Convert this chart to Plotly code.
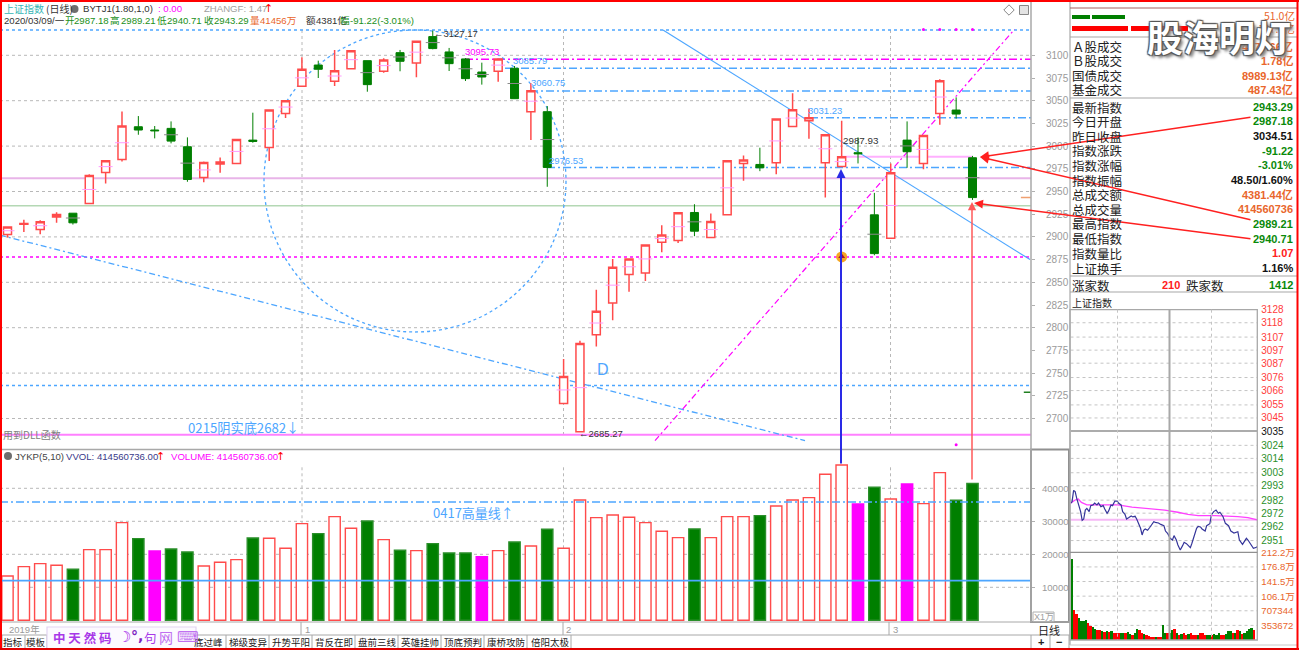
import plotly.graph_objects as go

W, H = 1299, 650
FONT = "Liberation Sans, Noto Sans CJK SC, sans-serif"
CJK = "Noto Sans CJK SC, Liberation Sans, sans-serif"

# ---------- daily candles ----------
opens = [2902.6,2914.0,2908.1,2922.0,2926.1,2936.8,2971.0,2985.3,3021.3,3017.7,3019.5,2999.3,2965.5,2980.2,2980.9,3006.6,2998.5,3036.0,3065.8,3089.3,
         3071.3,3085.3,3094.1,3082.4,3102.9,3091.5,3120.6,3103.7,3096.0,3081.6,3082.4,3085.7,3037.9,3037.9,2716.6,2685.3,2792.3,2827.2,2858.5,2860.3,
         2894.1,2896.0,2926.9,2899.3,2924.3,2980.9,2979.8,2981.6,3021.7,3028.0,2981.6,2977.6,2992.7,2924.3,2898.6,3006.6,2980.9,3036.0,3039.7,2987.18]
highs = [2911.0,2919.0,2918.4,2927.2,2926.1,2969.1,2984.6,3038.2,3033.1,3022.1,3027.2,3009.6,2983.1,2987.5,3007.4,3036.8,3040.4,3050.7,3097.8,3094.1,
         3105.9,3105.9,3094.1,3096.7,3105.9,3115.4,3127.17,3108.1,3097.0,3091.9,3096.7,3088.2,3069.1,3044.1,2765.5,2785.7,2841.9,2875.7,2875.7,2891.2,
         2912.9,2926.5,2936.0,2925.8,2983.8,2989.7,2998.2,3030.5,3058.1,3041.5,3013.2,3028.0,3009.6,2948.5,2980.9,3027.2,3011.8,3073.5,3053.7,2989.21]
lows = [2899.3,2905.5,2903.0,2915.5,2913.6,2936.0,2958.8,2983.1,3012.5,3008.5,3003.0,2960.7,2960.3,2970.6,2980.9,3003.7,2983.5,3030.9,3065.4,3075.0,
        3066.2,3084.6,3059.9,3080.9,3082.4,3075.7,3106.6,3082.7,3071.7,3067.7,3071.0,3052.2,3006.6,2955.2,2716.6,2685.27,2779.4,2808.1,2839.7,2851.5,
        2883.1,2893.4,2900.8,2899.3,2924.3,2961.8,2972.4,2969.1,3021.3,3008.1,2943.4,2977.2,2980.9,2879.8,2897.9,2976.1,2974.6,3023.5,3030.2,2940.71]
closes = [2911.0,2914.7,2916.6,2924.6,2915.5,2967.7,2983.8,3022.1,3017.7,3016.9,3005.5,2963.2,2982.0,2982.4,3007.4,3005.2,3039.7,3050.0,3084.6,3084.6,
          3083.1,3105.1,3067.7,3094.9,3093.4,3115.4,3107.4,3090.8,3074.3,3076.1,3096.0,3052.2,3061.0,2976.5,2746.3,2782.7,2818.0,2866.5,2875.7,2891.2,
          2902.2,2926.5,2906.3,2916.9,2983.8,2984.6,2976.1,3029.8,3040.1,3031.3,3012.5,2988.2,2991.6,2881.6,2970.6,2993.8,3011.8,3072.1,3035.3,2943.29]
idx = list(range(len(closes)))

volumes = [13434,16263,17172,16667,15455,21414,21414,29596,24747,21010,21616,20707,16465,17576,18384,24950,24848,21818,29293,26263,
           31414,27879,30101,24444,21212,21111,23232,20404,20404,19293,21111,23737,22525,27576,21818,36465,31111,31919,31212,29596,
           26970,25051,27677,25051,31414,31414,31717,34646,36465,37172,44242,47071,35253,40303,36768,41313,35354,44747,36364,41456]
vol_kind = ["r","r","r","r","g","r","r","r","g","m","g","g","r","r","r","g","r","r","r","g",
            "r","r","g","r","g","r","g","g","g","m","r","g","r","g","r","r","r","r","r","r",
            "r","r","g","r","r","r","g","r","r","r","r","r","m","g","r","m","r","r","g","g"]

# ---------- price axis ----------
price_ticks = [2700,2725,2750,2775,2800,2825,2850,2875,2900,2925,2950,2975,3000,3025,3050,3075,3100]
price_grid = [2700,2750,2800,2850,2900,2950,3000,3050,3100]
vol_ticks = [10000,20000,30000,40000]

# ---------- intraday ----------
min_t = [0,2,4,6,8,11,13,15,17,19,21,24,26,29,31,34,36,39,42,44,47,49,52,54,57,60,62,65,67,70,72,75,78,80,83,85,88,90,92,94,96,99,102,104,107,109,113,116,120,122,125,128,131,133,136,138,141,144,146,149,151,154,156,159,162,164,167,169,173,175,179,181,184,187,190,192,196,199,203,206,210,215,217,221,223,226,228,232,235,239,240]
min_p = [2979.6,2980.8,2989.5,2988.5,2983.4,2977.0,2973.2,2966.5,2967.5,2974.4,2975.7,2973.2,2977.8,2978.3,2979.8,2978.3,2979.8,2977.0,2977.8,2975.2,2971.9,2973.7,2978.3,2977.8,2981.3,2981.3,2979.6,2978.3,2973.2,2971.1,2967.5,2968.6,2969.8,2969.1,2969.6,2967.5,2962.9,2960.4,2955.3,2958.9,2959.9,2958.9,2961.2,2963.4,2965.5,2965.0,2964.5,2963.4,2962.4,2958.3,2956.3,2952.7,2951.4,2954.8,2951.4,2947.6,2943.8,2947.1,2949.7,2948.6,2947.6,2945.6,2948.9,2954.3,2960.4,2961.9,2961.4,2959.9,2958.3,2962.4,2963.9,2970.6,2973.2,2974.4,2971.9,2972.7,2969.3,2964.2,2962.4,2958.3,2956.8,2957.8,2951.4,2948.1,2950.2,2952.7,2951.4,2947.6,2945.1,2945.8,2946.6]
avg_t = [0,6,10,14,21,36,61,79,104,121,138,151,164,186,215,228,240]
avg_p = [2979.6,2982.1,2982.9,2980.3,2978.3,2978.3,2978.3,2976.7,2975.2,2974.4,2972.7,2971.1,2970.1,2970.1,2969.3,2968.6,2966.8]
mini_vol = [197,72,64,53,45,45,48,41,33,31,26,25,23,21,19,21,19,21,18,16,18,16,18,16,19,15,13,16,26,25,18,14,12,10,8,8,7,7,8,37,
            16,18,16,23,26,18,12,15,16,12,15,16,11,11,12,16,18,12,13,11,11,14,12,16,12,11,15,21,21,16,18,23,21,15,18,21,26,28,23]
mini_kind = ["g","r","r","g","g","g","g","r","r","g","g","r","r","g","r","g","r","g","r","r","r","g","g","r","g","g","r","g","g","r","r","g","r","r","r","r","g","r","r","g",
             "g","r","g","g","r","g","r","g","r","r","g","r","r","r","g","r","r","r","g","g","r","g","g","g","r","r","g","g","g","r","g","r","g","r","g","g","g","g","r"]
mini_t = [i * 3 + 1.5 for i in range(len(mini_vol))]
mini_price_ticks = [3128,3118,3107,3097,3087,3076,3066,3055,3045,3035,3024,3014,3003,2993,2982,2972,2962,2951]
mini_vol_ticks = [212.2,176.8,141.5,106.1,70.7344,35.3672]
mini_vol_text = ["212.2万","176.8万","141.5万","106.1万","707344","353672"]

# ---------- colours ----------
RED = "#ff4b4b"; GREEN = "#007f00"; MAG = "#ff00ff"; BLUE = "#4da6ff"; GRAY = "#9a9a9a"; ORANGE = "#e9662c"
GRID = "#b8b8b8"; BORDER = "#a8a8a8"

# ---------- pixel helpers (page layout only) ----------
def fx(p): return p / W
def fy(p): return 1 - p / H
XR = (-7.5 / 16.356, (1031 - 7.5) / 16.356)
def ix(p): return (p - 7.5) / 16.356
def pv(p): return 3100 - (p - 55.3) / 0.908
XEND = XR[1]

shapes, annos = [], []

def hl(v, x0, x1, color, width=1, dash="solid", xref="x", yref="y", layer="below"):
    shapes.append(dict(type="line", xref=xref, yref=yref, x0=x0, x1=x1, y0=v, y1=v, layer=layer,
                       line=dict(color=color, width=width, dash=dash)))
def seg(x0, y0, x1, y1, color, width=1, dash="solid"):
    shapes.append(dict(type="line", xref="x", yref="y", x0=x0, x1=x1, y0=y0, y1=y1, layer="below",
                       line=dict(color=color, width=width, dash=dash)))
def box(x0, y0, x1, y1, color=BORDER, width=1, fill=None, layer="above"):
    d = dict(type="rect", xref="paper", yref="paper", x0=fx(x0), x1=fx(x1), y0=fy(y0), y1=fy(y1), layer=layer,
             line=dict(color=color, width=width))
    if fill: d["fillcolor"] = fill
    shapes.append(d)
def pl(x0, y0, x1, y1, color=BORDER, width=1, dash="solid"):
    shapes.append(dict(type="line", xref="paper", yref="paper", x0=fx(x0), x1=fx(x1), y0=fy(y0), y1=fy(y1), layer="above",
                       line=dict(color=color, width=width, dash=dash)))
def txt(x, y, s, color="#333333", size=9.6, anchor="left", family=FONT, bold=False, **font_kw):
    if bold: s = "<b>" + s + "</b>"
    annos.append(dict(xref="paper", yref="paper", x=fx(x), y=fy(y), text=s, showarrow=False, xanchor=anchor, yanchor="middle",
                      borderpad=0, font=dict(color=color, size=size, family=family, **font_kw)))
def arrow(x0, y0, x1, y1, color, width=1.5, size=1.0):
    annos.append(dict(xref="paper", yref="paper", x=fx(x1), y=fy(y1), ax=x0 - x1, ay=y0 - y1, text="", showarrow=True,
                      arrowhead=2, arrowsize=size, arrowwidth=width, arrowcolor=color))

# ---------- main pane lines ----------
for v in price_grid:
    hl(v, XR[0], XR[1], GRID, 1, "dot")
for p in (302, 563.5, 890.5):
    seg(ix(p), pv(30), ix(p), pv(437), GRID, 1, "dot")
    shapes.append(dict(type="line", xref="x2", yref="y2", x0=ix(p), x1=ix(p), y0=0, y1=47000, layer="below",
                       line=dict(color=GRID, width=1, dash="dot")))
DD = "8px,3px,2px,3px"
hl(3127.9, XR[0], XEND, BLUE, 1.5, "dot")
hl(3095.73, ix(465), XEND, MAG, 1.5, DD)
hl(3085.79, ix(505), XEND, BLUE, 1.5, DD)
hl(3060.75, ix(530), XEND, BLUE, 1.5, DD)
hl(3031.23, ix(810), XEND, BLUE, 1.5, DD)
hl(2976.53, ix(547), XEND, BLUE, 1.5, DD)
hl(2964.5, XR[0], XEND, "#e8b4e8", 2)
hl(2934.2, XR[0], XEND, "#b4d8b4", 1.5)
hl(2988.2, ix(841), ix(972), "#ffb0ff", 2)
hl(2877.9, XR[0], XEND, MAG, 1.5, "dot")
hl(2736.4, XR[0], XEND, BLUE, 1.5, "dot")
hl(2682, XR[0], XEND, "#ff80ff", 2)
seg(ix(663), 3127.9, ix(1030), 2875, BLUE, 1.2)
seg(XR[0], 2902, ix(805), 2675.6, BLUE, 1.3, "6px,3px,2px,3px")
seg(ix(655), 2675.6, ix(1014.5), 3128.6, MAG, 1.2, "6px,3px,2px,3px")
shapes.append(dict(type="circle", xref="x", yref="y", x0=ix(264), x1=ix(566), y0=pv(332), y1=pv(30), layer="below",
                   line=dict(color=BLUE, width=1.3, dash="dot")))

# volume pane lines
for v in vol_ticks:
    hl(v, XR[0], XR[1], GRID, 1, "dot", "x2", "y2")
hl(12020, XR[0], XR[1], BLUE, 1.8, "solid", "x2", "y2", "above")
hl(35859, XR[0], XR[1], BLUE, 1.6, DD, "x2", "y2", "above")

# mini pane lines
for v in mini_price_ticks:
    if v not in (3128, 3035):
        hl(v, 0, 240, "#c4c4c4", 1, "dot", "x3", "y3")
hl(3035, 0, 240, "#909090", 1.5, "solid", "x3", "y3")
hl(2967, 0, 240, "#f6b8f6", 2, "solid", "x3", "y3")
for v in mini_vol_ticks[1:]:
    hl(v, 0, 240, "#c4c4c4", 1, "dot", "x4", "y4")

# ---------- traces ----------
fig = go.Figure()
fig.add_trace(go.Candlestick(x=idx, open=opens, high=highs, low=lows, close=closes, xaxis="x", yaxis="y",
    increasing=dict(line=dict(color=RED, width=1.5), fillcolor="white"),
    decreasing=dict(line=dict(color=GREEN, width=1.0), fillcolor=GREEN),
    whiskerwidth=0, hoverinfo="skip", showlegend=False))

mid_x = [i for i in idx if abs(closes[i] - opens[i]) >= 5]
mid_y = [(opens[i] + closes[i]) / 2 for i in mid_x]
mid_c = ["#ff9cff" if closes[i] > opens[i] else "#8a8a8a" for i in mid_x]
fig.add_trace(go.Scatter(x=mid_x, y=mid_y, mode="markers", xaxis="x", yaxis="y", hoverinfo="skip", showlegend=False,
    marker=dict(symbol="line-ew", size=10, line=dict(color=mid_c, width=1))))

# small marks on the main pane
fig.add_trace(go.Scatter(x=[56, 57, 58, 59, 58], y=[3128.5, 3128.5, 3128.5, 3128.5, 2671], mode="markers", xaxis="x", yaxis="y",
    hoverinfo="skip", showlegend=False, marker=dict(color=MAG, size=3)))
fig.add_trace(go.Scatter(x=[51], y=[2877.9], mode="markers", xaxis="x", yaxis="y", hoverinfo="skip", showlegend=False,
    marker=dict(color="#f5a623", size=11, symbol="circle")))
fig.add_trace(go.Scatter(x=[51], y=[2878.5], mode="markers", xaxis="x", yaxis="y", hoverinfo="skip", showlegend=False,
    marker=dict(color="#a01040", size=6, symbol="triangle-up")))
fig.add_trace(go.Scatter(x=[62.3], y=[2943.3], mode="markers", xaxis="x", yaxis="y", hoverinfo="skip", showlegend=False,
    marker=dict(symbol="line-ew", size=8, line=dict(color="#f0a070", width=1.5))))
fig.add_trace(go.Scatter(x=[62.35], y=[2729], mode="markers", xaxis="x", yaxis="y", hoverinfo="skip", showlegend=False,
    marker=dict(symbol="line-ew", size=5, line=dict(color="#208020", width=1.5))))

fill = {"r": "white", "g": GREEN, "m": MAG}
edge = {"r": RED, "g": "#2a8f2a", "m": MAG}
fig.add_trace(go.Bar(x=idx, y=volumes, width=0.69, xaxis="x2", yaxis="y2", hoverinfo="skip", showlegend=False,
    marker=dict(color=[fill[k] for k in vol_kind], line=dict(color=[edge[k] for k in vol_kind], width=1.4))))

fig.add_trace(go.Bar(x=mini_t, y=mini_vol, width=3, xaxis="x4", yaxis="y4", hoverinfo="skip", showlegend=False,
    marker=dict(color=["#ff0000" if k == "r" else GREEN for k in mini_kind], line=dict(width=0))))
fig.add_trace(go.Scatter(x=avg_t, y=avg_p, mode="lines", xaxis="x3", yaxis="y3", hoverinfo="skip", showlegend=False,
    line=dict(color="#ff40ff", width=1.3)))
fig.add_trace(go.Scatter(x=min_t, y=min_p, mode="lines", xaxis="x3", yaxis="y3", hoverinfo="skip", showlegend=False,
    line=dict(color="#35359a", width=1.2)))

# ---------- frame ----------
box(1031, 449.5, 1069, 622, "#909090", 2)
pl(0, 449.5, 1031, 449.5, BORDER, 1.5)
pl(1031, 0, 1031, 622, BORDER, 1.5)
pl(0, 622, 1070, 622, BORDER, 1)
pl(0, 635, 1070, 635, BORDER, 1)
pl(1070, 0, 1070, 645, BORDER, 1.2)
pl(1070, 8, 1297, 8, "#a86060", 1.2)
pl(1070, 37, 1297, 37, BORDER, 1.2)
pl(1070, 98, 1297, 98, BORDER, 1.2)
pl(1070, 276, 1297, 276, BORDER, 1.2)
pl(1070, 292, 1297, 292, BORDER, 1.2)
box(1070, 309.7, 1257.3, 640, BORDER, 1.3)
pl(1070, 552.3, 1257.3, 552.3, "#909090", 1.2)
pl(1169.5, 309.7, 1169.5, 640, BORDER, 2)
for p in (1117.5, 1211.5):
    pl(p, 309.7, p, 640, "#c4c4c4", 1, "dot")
pl(1070, 645, 1297, 645, "#c8c8c8", 1)
pl(301, 622, 301, 635, BORDER, 1)
pl(563, 622, 563, 635, BORDER, 1)
pl(889, 622, 889, 635, BORDER, 1)

# tabs
for p in (2, 25, 47, 226, 269, 312, 355, 398, 441, 484, 527, 571, 1031, 1050, 1069):
    pl(p, 635, p, 648, BORDER, 1)
tabs_x = [13, 36, 209, 248, 291, 334, 377, 420, 463, 506, 550]
tabs = ["指标", "模板", "底过峰", "梯级变异", "升势平阳", "背反在即", "盘前三线", "英雄挂帅", "顶底预判", "康桥攻防", "倍阳太极"]
for p, s in zip(tabs_x, tabs):
    txt(p, 642, s, "#222222", 9.5, "center", CJK)
# purple toolbar
box(47, 627, 196, 649, "#e2d4f2", 1.2, "#fcfaff")
txt(52, 637, "中 天 然 码", "#a838e8", 12.5, "left", CJK, True)
txt(117, 637, "☽", "#a020e8", 15, "left", "DejaVu Sans", True)
txt(130, 636, "°,", "#7a20c0", 14, "left", "DejaVu Sans", True)
txt(143, 637, "句", "#a838e8", 12.5, "left", CJK)
txt(158, 637, "网", "#c070f0", 14, "left", CJK)
txt(176, 637, "⌨", "#c070f0", 15, "left", "DejaVu Sans")

# date strip
txt(8, 629, "2019年", "#9a9a9a", 9.5)
for p, s in ((304, "1"), (565, "2"), (892, "3")):
    txt(p, 629, s, "#9a9a9a", 9.5)
txt(1049, 630, "日线", "#222222", 11, "center", CJK)
txt(1041, 642, "+", "#222222", 11, "center", FONT, True)
txt(1059, 642, "−", "#222222", 11, "center", FONT, True)
box(1033, 612, 1054, 621.5, "#b0b0b0", 1)
txt(1043.5, 617, "X1万", "#a0a0a0", 9, "center")

# red page border
pl(1, 0, 1, H, "#ff0000", 2)
pl(0, 1, W, 1, "#ff0000", 2)
pl(0, 649, W, 649, "#e00000", 2)
pl(1297.5, 0, 1297.5, H, "#ff0000", 2)

# header main
txt(3, 9, "上证指数", "#35b5b5", 10, "left", CJK)
txt(45, 9, "(日线)", "#333333", 10, "left", CJK)
fig.add_trace(go.Scatter(x=[fx(74.5), fx(8)], y=[fy(9), fy(456)], mode="markers", xaxis="x5", yaxis="y5", hoverinfo="skip", showlegend=False,
    marker=dict(color="#6e6e6e", size=8)))
txt(82, 9, "BYTJ1(1.80,1,0)", "#333333", 9.6)
txt(157, 9, ": 0.00", MAG, 9.6)
txt(203, 9, "ZHANGF: 1.47", "#a0a0a0", 9.6)
txt(263, 9, "↑", "#ff0000", 11, "left", "DejaVu Sans")
txt(3, 20, "2020/03/09/一", "#333333", 9.6, "left", FONT)
pieces = [(64, "开", "#1a8f1a"), (73, "2987.18", "#1a8f1a"), (109, "高", "#1a8f1a"), (120, "2989.21", "#1a8f1a"),
          (156, "低", "#1a8f1a"), (166, "2940.71", "#1a8f1a"), (203, "收", "#1a8f1a"), (213, "2943.29", "#1a8f1a"),
          (249, "量", ORANGE), (259, "41456万", ORANGE), (305, "额", "#333333"), (315, "4381亿", "#333333"),
          (339, "幅", "#1a8f1a"), (349, "-91.22(-3.01%)", "#1a8f1a")]
for p, s, c in pieces:
    txt(p, 20, s, c, 9.6)

# pane texts
txt(14, 456, "JYKP(5,10)", "#444444", 9.6)
txt(65, 456, "VVOL: 414560736.00", "#3a3a8a", 9.6)
txt(155, 456, "↑", "#ff0000", 11, "left", "DejaVu Sans")
txt(170, 456, "VOLUME: 414560736.00", MAG, 9.6)
txt(275, 456, "↑", "#ff0000", 11, "left", "DejaVu Sans")

txt(433, 34, "←3127.17", "#333333", 9.5, "left")
txt(464, 52, "3095.73", MAG, 9.5)
txt(512, 61, "3085.79", BLUE, 9.5)
txt(530, 83, "3060.75", BLUE, 9.5)
txt(548, 160, "2976.53", BLUE, 9.5)
txt(807, 110, "3031.23", BLUE, 9.5)
txt(842, 140, "2987.93", "#333333", 9.8)
txt(578, 433, "←2685.27", "#333333", 9.5)
txt(596, 369, "D", BLUE, 16)
txt(187, 427, "0215阴实底2682↓", BLUE, 13.2, "left", CJK)
txt(2, 434, "用到DLL函数", "#808080", 10, "left", CJK)
txt(432, 512, "0417高量线↑", BLUE, 13, "left", CJK)

# icons
fig.add_trace(go.Scatter(x=[fx(1009), fx(1024)], y=[fy(10), fy(10)], mode="markers", xaxis="x5", yaxis="y5", hoverinfo="skip", showlegend=False,
    marker=dict(color=["white", "#d8d8d8"], size=[8, 9], symbol=["diamond", "square"], line=dict(color="#555555", width=1))))

# arrows
arrow(841, 465, 841, 169, "#2a2ae6", 2, 0.9)
arrow(972, 481, 972, 202, "#ff5a5a", 1.5, 1.1)
arrow(1252, 117, 980, 157, "#ff2020", 1.5, 1.2)
arrow(1252, 220, 980, 157, "#ff2020", 1.5, 1.2)
arrow(1252, 239, 974, 203, "#ff2020", 1.5, 1.2)

# right panel
shapes.append(dict(type="rect", xref="paper", yref="paper", x0=fx(1072), x1=fx(1090), y0=fy(19), y1=fy(15), fillcolor=GREEN, line=dict(width=0)))
shapes.append(dict(type="rect", xref="paper", yref="paper", x0=fx(1092), x1=fx(1125), y0=fy(19), y1=fy(15), fillcolor=GREEN, line=dict(width=0)))
shapes.append(dict(type="rect", xref="paper", yref="paper", x0=fx(1072), x1=fx(1128), y0=fy(31), y1=fy(26), fillcolor="#ff0000", line=dict(width=0)))
shapes.append(dict(type="rect", xref="paper", yref="paper", x0=fx(1131), x1=fx(1188), y0=fy(31), y1=fy(26), fillcolor="#ff0000", line=dict(width=0)))
txt(1296, 16, "51.0亿", ORANGE, 10.5, "right", CJK)
txt(1296, 28, "107.0亿", ORANGE, 10.5, "right", CJK)

row_lab = ["Ａ股成交","Ｂ股成交","国债成交","基金成交","最新指数","今日开盘","昨日收盘","指数涨跌","指数涨幅","指数振幅","总成交额","总成交量","最高指数","最低指数","指数量比","上证换手"]
row_val = ["4379.66亿","1.78亿","8989.13亿","487.43亿","2943.29","2987.18","3034.51","-91.22","-3.01%","48.50/1.60%","4381.44亿","414560736","2989.21","2940.71","1.07","1.16%"]
row_col = [ORANGE,ORANGE,ORANGE,ORANGE,"#0a8a0a","#0a8a0a","#111111","#0a8a0a","#0a8a0a","#111111",ORANGE,ORANGE,"#0a8a0a","#0a8a0a","#ff2020","#111111"]
row_y = [46,60.7,75.3,90,107,121.3,136,150.7,165.3,180,194.7,209.3,224,238.7,253.3,268]
for s, v, c, y in zip(row_lab, row_val, row_col, row_y):
    txt(1071, y, s, "#222222", 12.5, "left", CJK)
    txt(1294, y, v, c, 11, "right", FONT, True)
txt(1071, 285, "涨家数", "#222222", 12.5, "left", CJK)
txt(1181, 285, "210", "#ff2020", 11, "right", FONT, True)
txt(1185, 285, "跌家数", "#222222", 12.5, "left", CJK)
txt(1294, 285, "1412", "#0a8a0a", 11, "right", FONT, True)
txt(1071, 302, "上证指数", "#222222", 10, "left", CJK)

# watermark
txt(1219, 36, "股海明灯", "white", 36, "center", CJK, True,
    shadow="1px 1px 1px #555, -1px -1px 1px #555, 1px -1px 1px #555, -1px 1px 1px #555, 3px 3px 3px #888")

# ---------- axes ----------
def colored(vals):
    out = []
    for v in vals:
        c = "#ff3b3b" if v > 3035 else ("#111111" if v == 3035 else "#2a8f2a")
        out.append('<span style="color:%s">%s</span>' % (c, v))
    return out

noax = dict(showgrid=False, zeroline=False, showticklabels=False, ticks="", showline=False, automargin=False)
fig.update_layout(
    template="none",
    width=W, height=H, margin=dict(l=0, r=0, t=0, b=0, pad=0), autosize=False,
    paper_bgcolor="white", plot_bgcolor="rgba(0,0,0,0)", showlegend=False, boxgap=0.3, bargap=0, barmode="overlay",
    font=dict(family=FONT), shapes=shapes, annotations=annos, dragmode=False,
    xaxis=dict(domain=[fx(0), fx(1031)], range=list(XR), anchor="y", rangeslider=dict(visible=False), **noax),
    yaxis=dict(domain=[fy(449.5), fy(3)], range=[pv(449.5), pv(3)], anchor="x", side="right", tickvals=price_ticks, automargin=False,
               showgrid=False, zeroline=False, ticks="outside", ticklen=3, tickcolor="#b0b0b0", ticklabelstandoff=9,
               tickformat="d", tickfont=dict(color=GRAY, size=10, family=FONT)),
    xaxis2=dict(domain=[fx(0), fx(1031)], range=list(XR), anchor="y2", **noax),
    yaxis2=dict(domain=[fy(622), fy(449.5)], range=[(620.3 - 622) / 33 * 10000, (620.3 - 449.5) / 33 * 10000], anchor="x2", side="right", automargin=False,
                tickvals=vol_ticks, ticktext=[str(v) for v in vol_ticks], showgrid=False, zeroline=False, ticks="outside", ticklen=3, tickcolor="#b0b0b0", ticklabelstandoff=5,
                tickfont=dict(color=GRAY, size=9.6, family=FONT)),
    xaxis3=dict(domain=[fx(1070.5), fx(1257.3)], range=[0, 240], anchor="y3", **noax),
    yaxis3=dict(domain=[fy(552.3), fy(309.7)], range=[2942, 3128], anchor="x3", side="right", tickvals=mini_price_ticks, automargin=False,
                ticktext=colored(mini_price_ticks), showgrid=False, zeroline=False, ticks="", ticklabelstandoff=3,
                tickfont=dict(size=10, family=FONT)),
    xaxis4=dict(domain=[fx(1070.5), fx(1257.3)], range=[0, 240], anchor="y4", **noax),
    yaxis4=dict(domain=[fy(640), fy(552.3)], range=[0, 212.2], anchor="x4", side="right", tickvals=mini_vol_ticks, ticktext=mini_vol_text, automargin=False,
                showgrid=False, zeroline=False, ticks="", ticklabelstandoff=3, tickfont=dict(color=ORANGE, size=9.6, family=FONT)),
    xaxis5=dict(domain=[0, 1], range=[0, 1], anchor="y5", **noax),
    yaxis5=dict(domain=[0, 1], range=[0, 1], anchor="x5", **noax),
)

fig.write_html("out.html", config=dict(displayModeBar=False, staticPlot=True),
               post_script="document.body.style.margin='0';document.body.style.overflow='hidden';")
